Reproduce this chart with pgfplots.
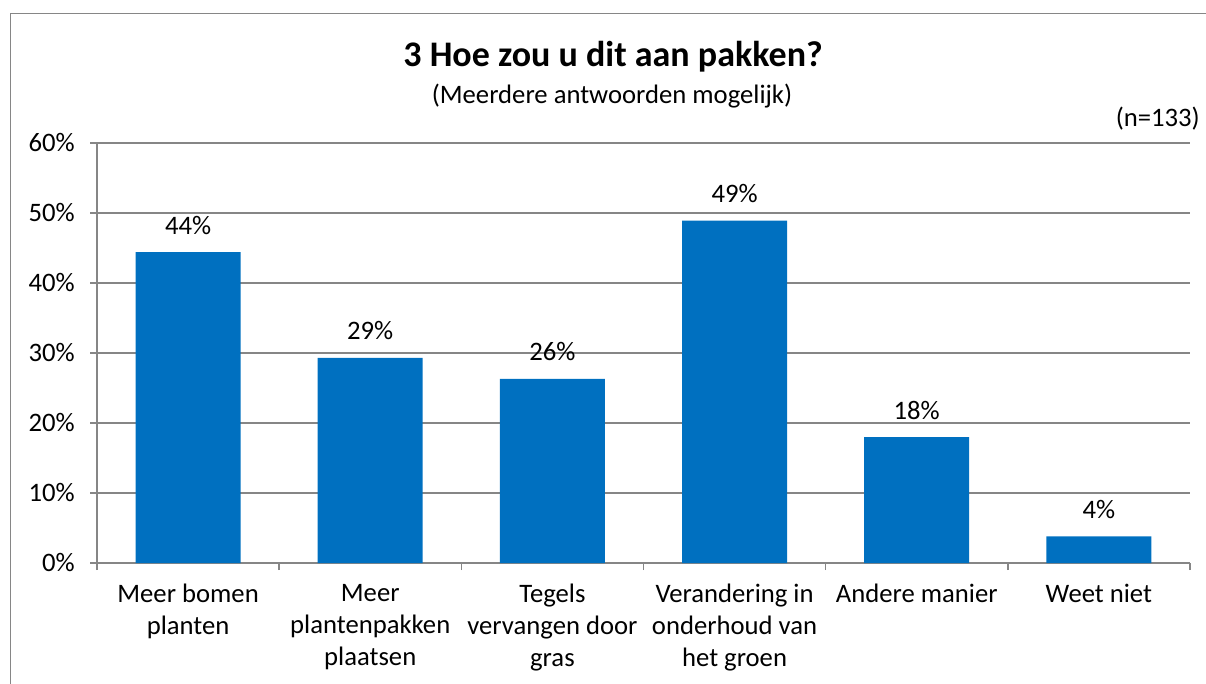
\documentclass[border=0pt]{standalone}
\usepackage{pgfplots}
\pgfplotsset{compat=1.18}
\usepackage{fontspec}
\setmainfont{Carlito}
\definecolor{barblue}{HTML}{0070C0}
\definecolor{gridgray}{HTML}{868686}
\begin{document}
\begin{tikzpicture}
\useasboundingbox (0,0) rectangle (1206pt,-684pt);
\draw[gridgray, line width=1.5pt] (10.5pt,-800pt) -- (10.5pt,-13.5pt) -- (1300pt,-13.5pt);
\node[font=\fontsize{36}{42}\selectfont\bfseries, anchor=base] at (613pt,-67pt) {3 Hoe zou u dit aan pakken?};
\node[font=\fontsize{26.67}{32}\selectfont, anchor=base] at (612pt,-104pt) {(Meerdere antwoorden mogelijk)};
\node[font=\fontsize{26.67}{32}\selectfont, anchor=base east, inner sep=0pt] at (1200pt,-127pt) {(n=133)};
\begin{axis}[
  at={(97pt,-563pt)}, anchor=south west,
  scale only axis, width=1093pt, height=420pt,
  xmin=-0.5, xmax=5.5, ymin=0, ymax=60,
  axis x line*=bottom, axis y line*=left,
  axis line style={gridgray, line width=1.5pt},
  ymajorgrids, grid style={gridgray, line width=1.5pt},
  ytick={0,10,...,60},
  yticklabel={\pgfmathprintnumber{\tick}\%},
  xtick={0,1,2,3,4,5},
  xticklabels={{Meer bomen\\planten},{Meer\\plantenpakken\\plaatsen},{Tegels\\vervangen door\\gras},{Verandering in\\onderhoud van\\het groen},{Andere manier},{Weet niet}},
  minor xtick={-0.5,0.5,...,5.5},
  tick align=outside,
  major tick length=7pt, minor tick length=7pt,
  every major x tick/.append style={draw=none},
  tick style={gridgray, line width=1.5pt},
  /pgf/number format/assume math mode=true,
  ticklabel style={font=\fontsize{26.67}{32}\selectfont, text=black},
  yticklabel style={inner sep=0pt, xshift=-15pt},
  xticklabel style={align=center, inner sep=0pt, anchor=north, yshift=-14pt},
  ybar, bar width=105pt,
  nodes near coords={\pgfmathprintnumber[fixed,precision=0]{\pgfplotspointmeta}\%},
  nodes near coords style={font=\fontsize{26.67}{32}\selectfont, text=black, anchor=base, inner sep=0pt, yshift=18pt, /pgf/number format/assume math mode=true},
  clip=false,
]
\addplot[fill=barblue, draw=none] coordinates {(0,44.4) (1,29.3) (2,26.3) (3,48.9) (4,18.0) (5,3.8)};
\end{axis}
\end{tikzpicture}
\end{document}
